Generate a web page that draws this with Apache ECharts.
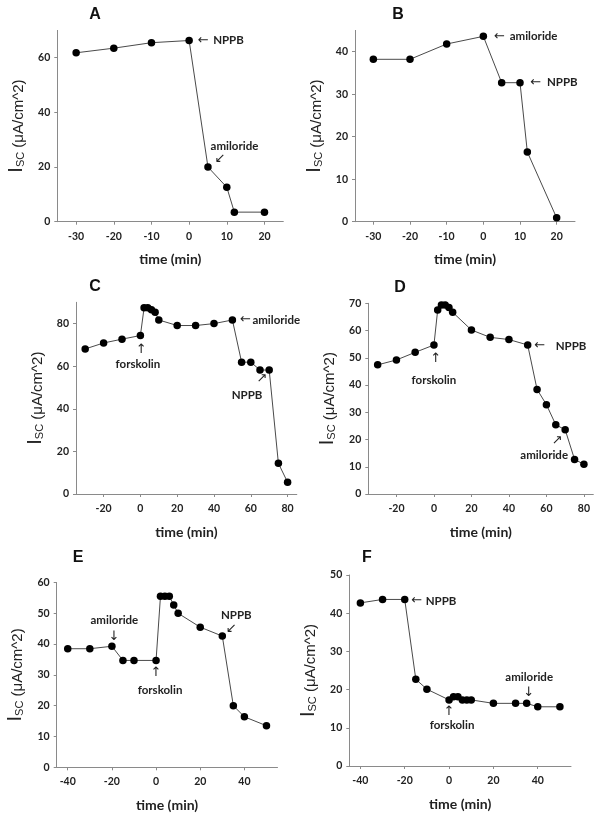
<!DOCTYPE html>
<html><head><meta charset="utf-8">
<script src="https://cdn.jsdelivr.net/npm/echarts@6/dist/echarts.min.js"></script>
<style>html,body{margin:0;padding:0;background:#fff;}#c{width:603px;height:819px;}</style>
</head><body><div id="c"></div>
<script>
// ---- data (time in min, Isc in µA/cm^2) ----
const timeA = [-30, -20, -10, 0, 5, 10, 12, 20];
const iscA  = [61.8, 63.5, 65.5, 66.3, 20.0, 12.6, 3.5, 3.5];
const timeB = [-30, -20, -10, 0, 5, 10, 12, 20];
const iscB  = [38.2, 38.2, 41.8, 43.6, 32.7, 32.7, 16.4, 0.9];
const timeC = [-30, -20, -10, 0, 2, 4, 6, 8, 10, 20, 30, 40, 50, 55, 60, 65, 70, 75, 80];
const iscC  = [68.1, 70.9, 72.7, 74.4, 87.4, 87.4, 86.5, 85.3, 81.7, 79.1, 79.1, 80.0, 81.7, 61.9, 61.9, 58.2, 58.2, 14.4, 5.5];
const timeD = [-30, -20, -10, 0, 2, 4, 6, 8, 10, 20, 30, 40, 50, 55, 60, 65, 70, 75, 80];
const iscD  = [47.4, 49.2, 52.0, 54.7, 67.5, 69.4, 69.4, 68.5, 66.7, 60.2, 57.5, 56.7, 54.7, 38.4, 32.8, 25.4, 23.6, 12.7, 10.9];
const timeE = [-40, -30, -20, -15, -10, 0, 2, 4, 6, 8, 10, 20, 30, 35, 40, 50];
const iscE  = [38.5, 38.5, 39.3, 34.7, 34.7, 34.7, 55.5, 55.5, 55.5, 52.7, 50.0, 45.5, 42.6, 20.0, 16.4, 13.5];
const timeF = [-40, -30, -20, -15, -10, 0, 2, 4, 6, 8, 10, 20, 30, 35, 40, 50];
const iscF  = [42.7, 43.6, 43.6, 22.7, 20.1, 17.3, 18.1, 18.1, 17.3, 17.3, 17.3, 16.4, 16.4, 16.4, 15.5, 15.5];

// ---- tick labels ----
const xTicksAB = [-30, -20, -10, 0, 10, 20];
const xTicksCD = [-20, 0, 20, 40, 60, 80];
const xTicksEF = [-40, -20, 0, 20, 40];
const yTicksA = [0, 20, 40, 60];
const yTicksB = [0, 10, 20, 30, 40];
const yTicksC = [0, 20, 40, 60, 80];
const yTicksD = [0, 10, 20, 30, 40, 50, 60, 70];
const yTicksE = [0, 10, 20, 30, 40, 50, 60];
const yTicksF = [0, 10, 20, 30, 40, 50];
const panelLabels = ['A', 'B', 'C', 'D', 'E', 'F'];
const xAxisTitle = 'time (min)';

// ---- annotations: [panel index, data index, arrow, text] ----
const annotations = [
  [0, 3, '←', 'NPPB'], [0, 4, '↙', 'amiloride'],
  [1, 3, '←', 'amiloride'], [1, 5, '←', 'NPPB'],
  [2, 3, '↑', 'forskolin'], [2, 12, '←', 'amiloride'], [2, 15, '↗', 'NPPB'],
  [3, 3, '↑', 'forskolin'], [3, 12, '←', 'NPPB'], [3, 16, '↗', 'amiloride'],
  [4, 2, '↓', 'amiloride'], [4, 5, '↑', 'forskolin'], [4, 12, '↙', 'NPPB'],
  [5, 2, '←', 'NPPB'], [5, 13, '↓', 'amiloride'], [5, 5, '↑', 'forskolin']
];

// ---- layout / styles ----
const panels = [
  {t: timeA, v: iscA, xMin: -35, xMax: 25, xT: xTicksAB, yMax: 70, yT: yTicksA, g: {left: 57.3, top: 30.4, width: 226, height: 191.3}, title: [95, 15]},
  {t: timeB, v: iscB, xMin: -35, xMax: 25, xT: xTicksAB, yMax: 45, yT: yTicksB, g: {left: 355, top: 30.4, width: 220, height: 191.3}, title: [398, 15]},
  {t: timeC, v: iscC, xMin: -35, xMax: 85, xT: xTicksCD, yMax: 90, yT: yTicksC, g: {left: 76, top: 302.3, width: 220.8, height: 191.7}, title: [95, 287]},
  {t: timeD, v: iscD, xMin: -35, xMax: 85, xT: xTicksCD, yMax: 70, yT: yTicksD, g: {left: 368.3, top: 303.3, width: 225, height: 190.7}, title: [400, 288]},
  {t: timeE, v: iscE, xMin: -45, xMax: 55, xT: xTicksEF, yMax: 60, yT: yTicksE, g: {left: 56.7, top: 582.5, width: 220.8, height: 184.8}, title: [78, 558]},
  {t: timeF, v: iscF, xMin: -45, xMax: 55, xT: xTicksEF, yMax: 50, yT: yTicksF, g: {left: 349.3, top: 575, width: 221.7, height: 191}, title: [367, 558]}
];
// pixel offsets of [arrow dx, arrow dy, text dx, text dy, text align] per annotation
const annotLayout = [
  [14, 0, 24, 0, 'left'], [12, -8, 26.5, -21, 'center'],
  [16, 0, 26.4, 0, 'left'], [15.6, 0, 27, 0, 'left'],
  [0.7, 14.4, -2.5, 28.7, 'center'], [13, 0, 20, 0, 'left'], [2, 9, -13, 25, 'center'],
  [1.7, 14, 0, 35, 'center'], [12, 1, 28, 1, 'left'], [-8, 11, -21, 26, 'center'],
  [2, -10, 2.5, -26, 'center'], [0, 12, 4, 29.5, 'center'], [9, -7.5, 14, -21, 'center'],
  [12, 1.5, 21, 1.5, 'left'], [2, -11, 2.5, -26, 'center'], [0, 12, 3, 25, 'center']
];

const axisColor = '#8a8a8a';
const labelFont = {fontFamily: 'Lato', fontWeight: 'bold', fontSize: 10.5, color: '#222'};

const chart = echarts.init(document.getElementById('c'), null, {renderer: 'canvas'});
const option = {
  animation: false,
  backgroundColor: '#fff',
  grid: panels.map(p => Object.assign({containLabel: false, outerBoundsMode: 'none'}, p.g)),
  xAxis: panels.map((p, i) => ({
    type: 'value', gridIndex: i, min: p.xMin, max: p.xMax,
    axisLine: {show: true, onZero: false, lineStyle: {color: axisColor, width: 1}},
    axisTick: {show: true, length: 3, customValues: p.xT, lineStyle: {color: axisColor}},
    axisLabel: Object.assign({show: true, margin: 9, customValues: p.xT}, labelFont),
    splitLine: {show: false},
    name: xAxisTitle, nameLocation: 'middle', nameGap: 31,
    nameTextStyle: {fontFamily: 'Lato', fontWeight: 'bold', fontSize: 14, color: '#222'}
  })),
  yAxis: panels.map((p, i) => ({
    type: 'value', gridIndex: i, min: 0, max: p.yMax,
    axisLine: {show: true, onZero: false, lineStyle: {color: axisColor, width: 1}},
    axisTick: {show: true, length: 3, customValues: p.yT, lineStyle: {color: axisColor}},
    axisLabel: Object.assign({show: true, margin: 7, customValues: p.yT}, labelFont),
    splitLine: {show: false},
    name: '{i|I}{s|SC}{r| (μA/cm^2)}', nameLocation: 'middle', nameGap: 31,
    nameTextStyle: {
      rich: {
        i: {fontFamily: 'Liberation Sans', fontSize: 20, color: '#222', verticalAlign: 'bottom', lineHeight: 22},
        s: {fontFamily: 'Liberation Sans', fontSize: 11, color: '#222', verticalAlign: 'bottom', lineHeight: 22},
        r: {fontFamily: 'Liberation Sans', fontSize: 15, color: '#222', verticalAlign: 'bottom', lineHeight: 22}
      }
    }
  })),
  series: panels.map((p, i) => ({
    type: 'line', xAxisIndex: i, yAxisIndex: i,
    data: p.t.map((x, j) => [x, p.v[j]]),
    symbol: 'circle', symbolSize: 7.5, showAllSymbol: true,
    itemStyle: {color: '#000'},
    lineStyle: {color: '#4a4a4a', width: 1},
    emphasis: {disabled: true}
  }))
};
chart.setOption(option);

// titles and annotations anchored to data points
const graphics = [];
panels.forEach((p, i) => {
  graphics.push({type: 'text', x: p.title[0], y: p.title[1],
    style: {text: panelLabels[i], font: 'bold 16px "Liberation Sans"', fill: '#111', align: 'center', verticalAlign: 'middle'}});
});
annotations.forEach((a, k) => {
  const p = panels[a[0]];
  const px = chart.convertToPixel({xAxisIndex: a[0], yAxisIndex: a[0]}, [p.t[a[1]], p.v[a[1]]]);
  const L = annotLayout[k];
  graphics.push({type: 'text', x: px[0] + L[0], y: px[1] + L[1],
    style: {text: a[2], font: '13px "DejaVu Sans"', fill: '#222', align: 'center', verticalAlign: 'middle'}});
  graphics.push({type: 'text', x: px[0] + L[2], y: px[1] + L[3],
    style: {text: a[3], font: 'bold 11.5px Lato', fill: '#222', align: L[4], verticalAlign: 'middle'}});
});
chart.setOption({graphic: graphics});
</script>
</body></html>
